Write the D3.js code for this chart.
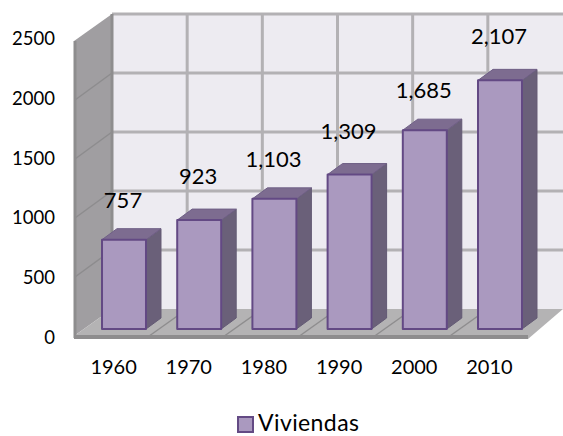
<!DOCTYPE html>
<html><head><meta charset="utf-8">
<script src="https://cdn.jsdelivr.net/npm/d3@7"></script>
<style>html,body{margin:0;padding:0;background:#fff;overflow:hidden}svg{display:block}text{font-family:Lato,"Open Sans",sans-serif;fill:#000}</style>
</head><body><svg id="c" width="563" height="436"></svg>
<script>
const years = ["1960","1970","1980","1990","2000","2010"];
const viviendas = [757,923,1103,1309,1685,2107];
const valueLabels = ["757","923","1,103","1,309","1,685","2,107"];
const yTicks = [0,500,1000,1500,2000,2500];
const seriesName = "Viviendas";

const svg = d3.select("#c");
const defs = svg.append("defs");
defs.append("filter").attr("id","soft").append("feGaussianBlur").attr("stdDeviation",0.5);
defs.append("filter").attr("id","softText").append("feGaussianBlur").attr("stdDeviation",0.25);

const yFront = d3.scaleLinear().domain([0,2500]).range([336,41]);
const yLabel = d3.scaleLinear().domain([0,2500]).range([344,45]);
const wall = {dx:38, dy:-27};
const barDepth = {dx:15, dy:-11};
const baseLift = 7;
const x = d3.scaleBand().domain(years).range([86.4,537.6]).paddingInner(0.415).paddingOuter(0.2075);
const xBack = d3.scaleBand().domain(years).range([112,563]);
const xFloor = d3.scaleBand().domain(years).range([74,525]);
const yBar = v => yFront(v) - baseLift;

const g = svg.append("g").attr("filter","url(#soft)");
const poly = (pts,fill,stroke,sw) => g.append("polygon").attr("points",pts.map(p=>p.join(",")).join(" "))
  .attr("fill",fill).attr("stroke",stroke||"none").attr("stroke-width",sw||0).attr("stroke-linejoin","round");

const L = xFloor.range()[0], R = xFloor.range()[1];
const yb = yFront(0), yt = yFront(2500);
poly([[L+wall.dx,yt+wall.dy],[R+wall.dx,yt+wall.dy],[R+wall.dx,yb+wall.dy],[L+wall.dx,yb+wall.dy]],"#edebf1");
poly([[L,yt],[L+wall.dx,yt+wall.dy],[L+wall.dx,yb+wall.dy],[L,yb]],"#a09ea1");
poly([[L,yb],[L+wall.dx,yb+wall.dy],[R+wall.dx,yb+wall.dy],[R+3,yb+3],[L,yb+3]],"#b4b3b4");
g.append("line").attr("x1",L).attr("x2",R+3).attr("y1",yb+1).attr("y2",yb+1).attr("stroke","#8e8d8e").attr("stroke-width",4);
g.append("line").attr("x1",L+1).attr("x2",L+1).attr("y1",yt).attr("y2",yb+2).attr("stroke","#8e8d8e").attr("stroke-width",3);

const gridC = "#b3b1b4";
yTicks.forEach(t=>{
  const y = yFront(t);
  if(t>0) g.append("line").attr("x1",L+wall.dx).attr("x2",R+wall.dx).attr("y1",y+wall.dy).attr("y2",y+wall.dy).attr("stroke",gridC).attr("stroke-width",3);
  if(t>0&&t<2500) g.append("line").attr("x1",L+1).attr("x2",L+wall.dx).attr("y1",y).attr("y2",y+wall.dy).attr("stroke","#8d8c8e").attr("stroke-width",1.5);
});
years.forEach((d,i)=>{
  const xb = xBack(d);
  g.append("line").attr("x1",xb).attr("x2",xb).attr("y1",yt+wall.dy).attr("y2",yb+wall.dy).attr("stroke",i===0?"#8e8d8e":gridC).attr("stroke-width",3);
  if(i>0) g.append("line").attr("x1",xFloor(d)).attr("x2",xb).attr("y1",yb).attr("y2",yb+wall.dy).attr("stroke","#8e8d8e").attr("stroke-width",1.5);
});
years.forEach((d,i)=>{
  const x0=x(d), x1=x0+x.bandwidth(), yT=yBar(viviendas[i]), yB=yBar(0), dx=barDepth.dx, dy=barDepth.dy;
  poly([[x1,yT],[x1+dx,yT+dy],[x1+dx,yB+dy],[x1,yB]],"#6a6079","#635a74",1);
  poly([[x0,yT],[x0+dx,yT+dy],[x1+dx,yT+dy],[x1,yT]],"#7d6c90","#6f5f86",1);
  poly([[x0,yT],[x1,yT],[x1,yB],[x0,yB]],"#aa99bf","#634a84",2);
});

const t = svg.append("g");
years.forEach((d,i)=>{
  t.append("text").attr("x",x(d)+x.bandwidth()/2-1).attr("y",yBar(viviendas[i])-(i%2?36:32))
    .attr("text-anchor","middle").attr("font-size",22).text(valueLabels[i]);
});
yTicks.forEach(v=>{
  t.append("text").attr("x",55).attr("y",yLabel(v)).attr("text-anchor","end").attr("font-size",18.5).text(v);
});
years.forEach(d=>{
  t.append("text").attr("x",xFloor(d)+xFloor.bandwidth()/2+2).attr("y",374).attr("text-anchor","middle").attr("font-size",20).text(d);
});
svg.append("rect").attr("x",238).attr("y",417).attr("width",15).attr("height",15).attr("fill","#aa99bf").attr("stroke","#634a84").attr("stroke-width",2);
t.append("text").attr("x",258).attr("y",431).attr("font-size",23).attr("letter-spacing",0.4).text(seriesName);
</script></body></html>
